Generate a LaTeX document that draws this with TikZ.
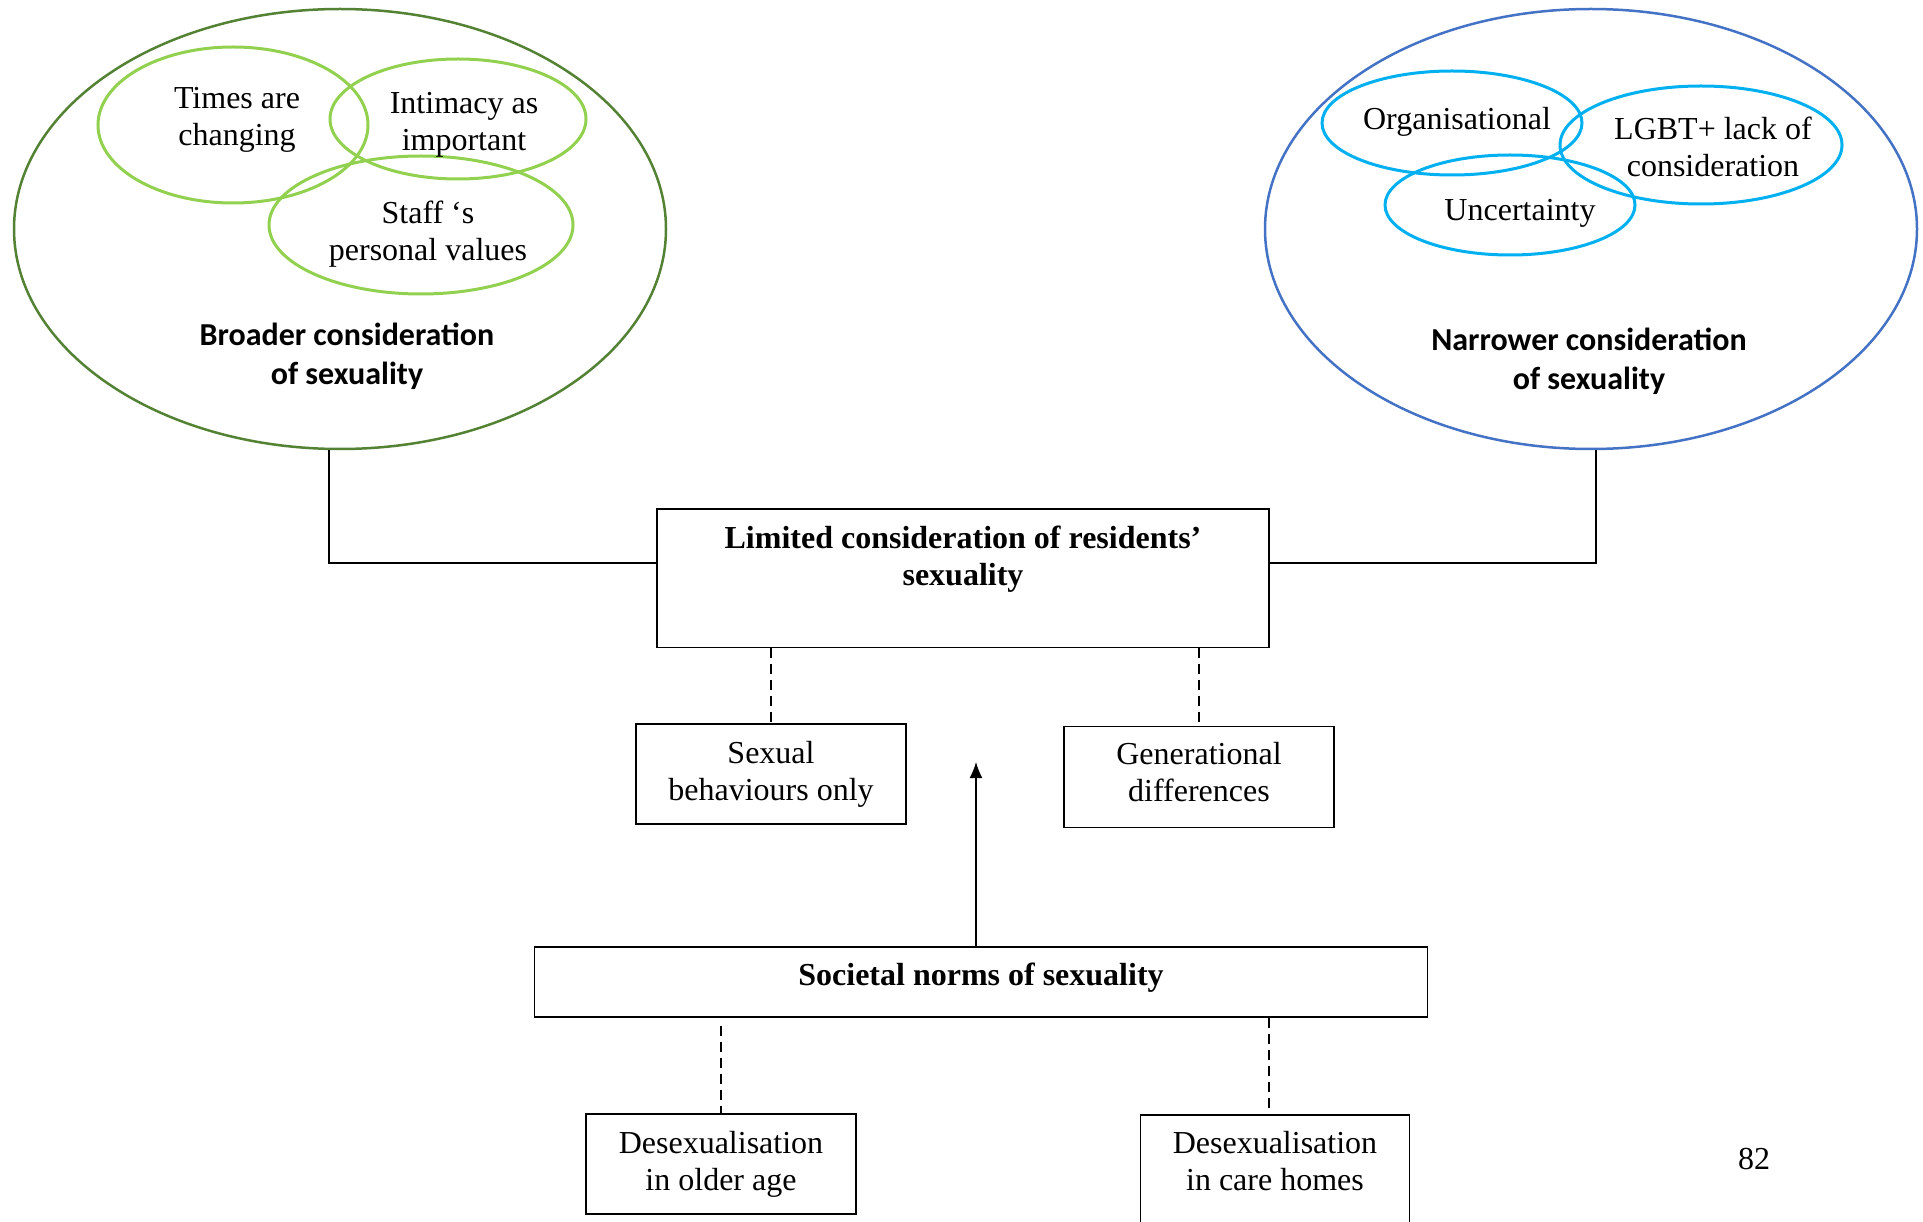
\documentclass[tikz,border=0pt]{standalone}
\usepackage{fontspec}
\setmainfont{Liberation Serif}
\newfontfamily\headfont{Carlito}
\usetikzlibrary{shapes,arrows.meta,positioning,calc}

\definecolor{leafgreen}{HTML}{548235}
\definecolor{limegreen}{HTML}{92D050}
\definecolor{royalblue}{HTML}{4472C4}
\definecolor{skyblue}{HTML}{00B0F0}

\begin{document}
\begin{tikzpicture}[x=1pt, y=-1pt,
    bigoval/.style={ellipse, draw, line width=2.5pt, minimum width=652pt, minimum height=440pt},
    theme/.style={ellipse, draw, line width=3pt, inner sep=0pt},
    themetext/.style={align=center, font=\fontsize{32}{37}\selectfont},
    heading/.style={align=center, font=\headfont\bfseries\fontsize{32}{39}\selectfont},
    box/.style={rectangle, draw, line width=1.6pt, align=center,
                font=\fontsize{32}{37}\selectfont},
    mainbox/.style={box, font=\bfseries\fontsize{32}{37}\selectfont},
    link/.style={line width=1.5pt},
    dashlink/.style={line width=1.5pt, dash pattern=on 10pt off 6pt},
    arrowlink/.style={line width=1.5pt, -{Latex[length=16pt,width=13pt]}}
]
\useasboundingbox (0,0) rectangle (1923,1222);

% Broader side
\node[bigoval, draw=leafgreen] (broad) at (340,229) {};
\node[theme, draw=limegreen, minimum width=270pt, minimum height=156pt] (times)    at (233,125) {};
\node[theme, draw=limegreen, minimum width=256pt, minimum height=120pt] (intimacy) at (458,119) {};
\node[theme, draw=limegreen, minimum width=304pt, minimum height=138pt] (staff)    at (421,225) {};
\node[themetext] (timestxt)    at (237,120) {Times are\\changing};
\node[themetext] (intimacytxt) at (464,125) {Intimacy as\\important};
\node[themetext] (stafftxt)    at (428,234) {Staff `s\\personal values};
\node[heading] (broadlbl) at (347,356) {Broader consideration\\of sexuality};

% Narrower side
\node[bigoval, draw=royalblue] (narrow) at (1591,229) {};
\node[theme, draw=skyblue, minimum width=260pt, minimum height=104pt] (organ)  at (1452,123) {};
\node[theme, draw=skyblue, minimum width=282pt, minimum height=118pt] (lgbt)   at (1701,145) {};
\node[theme, draw=skyblue, minimum width=250pt, minimum height=100pt] (uncert) at (1510,205) {};
\node[themetext] (organtxt)  at (1457,122) {Organisational};
\node[themetext] (lgbttxt)   at (1713,147) {LGBT+ lack of\\consideration};
\node[themetext] (uncerttxt) at (1520,213) {Uncertainty};
\node[heading] (narrowlbl) at (1589,361) {Narrower consideration\\of sexuality};

% Boxes
\node[mainbox, anchor=north, minimum width=612pt, inner ysep=17pt, text depth=45pt] (limited) at (963,508)
    {Limited consideration of residents'\\sexuality};
\node[box, minimum width=270pt, minimum height=100pt] (sexual) at (771,774) {Sexual\\behaviours only};
\node[box, minimum width=270pt, minimum height=101pt, text depth=10pt] (gener) at (1199,777) {Generational\\differences};
\node[mainbox, minimum width=893pt, minimum height=70pt, text depth=16pt] (norms) at (981,982)
    {Societal norms of sexuality};
\node[box, minimum width=270pt, minimum height=100pt] (older) at (721,1164) {Desexualisation\\in older age};
\node[box, anchor=north, minimum width=269pt, minimum height=130pt, text depth=37pt] (care) at (1275,1114)
    {Desexualisation\\in care homes};
\node[font=\fontsize{32}{37}\selectfont] (page) at (1754,1159) {82};

% Connectors
\draw[link] ([xshift=-11pt]broad.south) |- ([yshift=15pt]limited.west);
\draw[link] ([xshift=5pt]narrow.south) |- ([yshift=15pt]limited.east);
\draw[dashlink] (limited.south -| sexual.north) -- (sexual.north);
\draw[dashlink] (limited.south -| gener.north) -- (gener.north);
\coordinate (tip) at (976,762);
\draw[arrowlink] (norms.north -| tip) -- (tip);
\draw[dashlink] ([yshift=-8pt]norms.south -| older.north) -- (older.north);
\draw[dashlink] ([xshift=-6pt]norms.south -| care.north) -- ([xshift=-6pt]care.north);

\end{tikzpicture}
\end{document}
